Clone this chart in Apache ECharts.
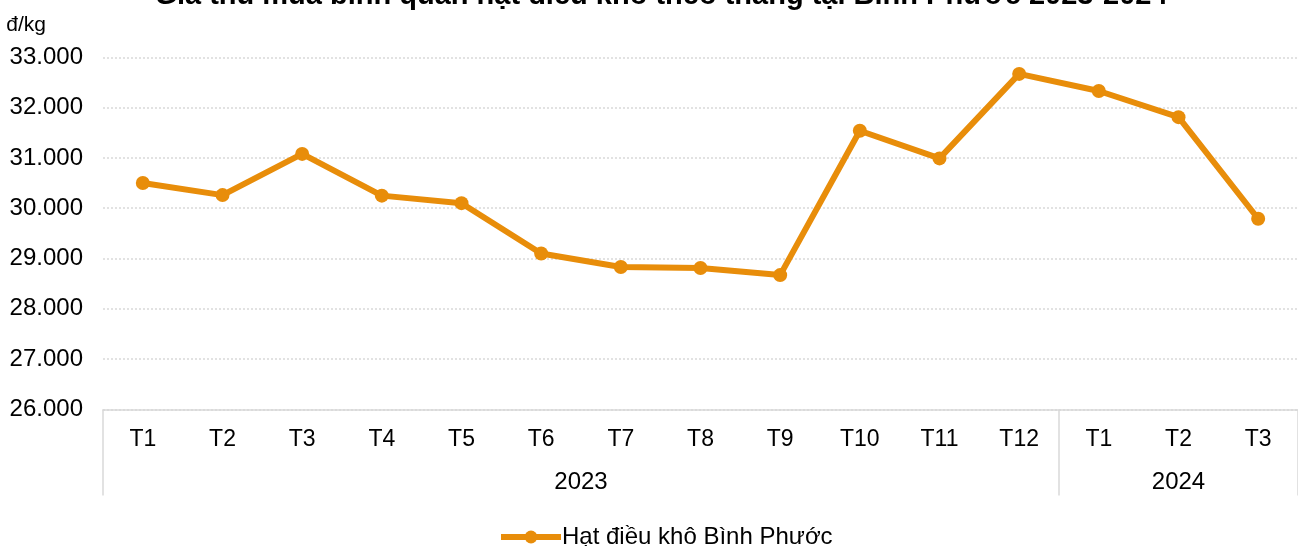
<!DOCTYPE html>
<html>
<head>
<meta charset="utf-8">
<script src="https://cdn.jsdelivr.net/npm/echarts@6/dist/echarts.min.js"></script>
<style>
html,body{margin:0;padding:0;background:#fff;}
#chart{width:1298px;height:546px;}
</style>
</head>
<body>
<div id="chart"></div>
<script>
const titleText = 'Giá thu mua bình quân hạt điều khô theo tháng tại Bình Phước 2023-2024';
const unitLabel = 'đ/kg';
const seriesName = 'Hạt điều khô Bình Phước';
const months = ['T1','T2','T3','T4','T5','T6','T7','T8','T9','T10','T11','T12','T1','T2','T3'];
const years = ['2023','2024'];
const monthsPerYear = [12, 3];
const prices = [30500, 30260, 31080, 30250, 30100, 29100, 28830, 28810, 28670, 31540, 30990, 32670, 32330, 31810, 29790];
const yMin = 26000, yMax = 33000, yStep = 1000;

// year group boundaries and centres (in month units)
const bounds = [0];
monthsPerYear.forEach((n, i) => bounds.push(bounds[i] + n));
const centres = monthsPerYear.map((n, i) => bounds[i] + n / 2);
const totalMonths = bounds[bounds.length - 1];

const FONT = '"Liberation Sans", Arial, sans-serif';
const ORANGE = '#E88D0A';
const GRID_GRAY = '#d9d9d9';

const chart = echarts.init(document.getElementById('chart'));
chart.setOption({
  animation: false,
  textStyle: { fontFamily: FONT },
  title: {
    text: titleText,
    left: 656,
    textAlign: 'center',
    top: -24,
    textStyle: { fontFamily: FONT, fontSize: 29, fontWeight: 'bold', color: '#000' }
  },
  grid: { left: 103, right: -4, top: 57.3, bottom: 136.6, containLabel: false },
  legend: {
    left: 493,
    top: 520,
    itemWidth: 60,
    itemHeight: 16,
    itemGap: 10,
    lineStyle: { width: 6 },
    textStyle: { fontFamily: FONT, fontSize: 24, color: '#000', padding: [0,0,0,-4] },
    data: [seriesName]
  },
  xAxis: [
    {
      type: 'category',
      data: months,
      boundaryGap: true,
      position: 'bottom',
      axisLine: { show: true, lineStyle: { color: GRID_GRAY, width: 1.5 } },
      axisTick: { show: false },
      axisLabel: { fontFamily: FONT, fontSize: 23, color: '#000', margin: 19, interval: 0 },
      splitLine: { show: false }
    },
    {
      type: 'value',
      min: 0,
      max: totalMonths,
      position: 'bottom',
      axisLine: { show: false },
      axisTick: { show: true, inside: false, length: 86, customValues: bounds, lineStyle: { color: GRID_GRAY, width: 1.5 } },
      axisLabel: {
        show: true,
        customValues: centres,
        margin: 61,
        fontFamily: FONT, fontSize: 24, color: '#000',
        formatter: function (v) {
          const i = centres.indexOf(v);
          return i >= 0 ? years[i] : '';
        }
      },
      splitLine: { show: false }
    }
  ],
  yAxis: {
    type: 'value',
    min: yMin,
    max: yMax,
    interval: yStep,
    name: unitLabel,
    nameLocation: 'end',
    nameGap: 22,
    nameTextStyle: { fontFamily: FONT, fontSize: 21, color: '#000', align: 'right', padding: [0, 57, 0, 0] },
    axisLine: { show: false },
    axisTick: { show: false },
    axisLabel: {
      fontFamily: FONT, fontSize: 24, color: '#000', margin: 20, padding: [5, 0, 0, 0],
      formatter: function (v) { return v.toString().replace(/\B(?=(\d{3})+(?!\d))/g, '.'); }
    },
    splitLine: { show: true, lineStyle: { color: GRID_GRAY, type: [2, 2], width: 1.5 } }
  },
  series: [{
    name: seriesName,
    type: 'line',
    data: prices,
    xAxisIndex: 0,
    symbol: 'circle',
    symbolSize: 14,
    lineStyle: { color: ORANGE, width: 6 },
    itemStyle: { color: ORANGE },
    z: 5
  }]
});
</script>
</body>
</html>
